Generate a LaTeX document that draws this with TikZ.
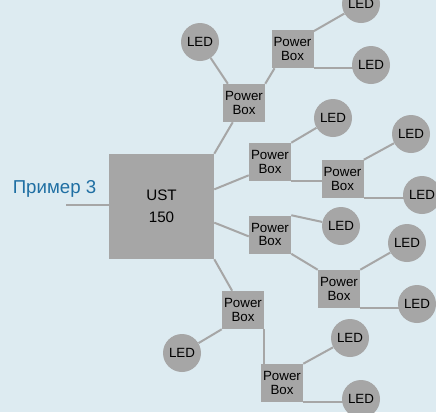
\documentclass[tikz,border=0pt]{standalone}
\usepackage{fontspec}
\setmainfont{Liberation Sans}
\usetikzlibrary{backgrounds}
\definecolor{bgblue}{HTML}{DDEBF1}
\definecolor{boxgray}{HTML}{A6A6A6}
\definecolor{txtblue}{HTML}{1F6FA3}

\begin{document}
\begin{tikzpicture}[x=0.75pt,y=-0.75pt,
  pbox/.style={fill=boxgray,minimum width=31.5pt,minimum height=28.5pt,inner sep=0pt,align=center,font=\fontsize{10}{9.8}\selectfont},
  led/.style={circle,fill=boxgray,minimum size=28.5pt,inner sep=0pt,font=\fontsize{10}{12}\selectfont},
  wire/.style={draw=boxgray,line width=1.5pt}]
\useasboundingbox (0,0) rectangle (436,412);
\begin{pgfonlayer}{background}
\fill[bgblue] (0,0) rectangle (436,412);
\end{pgfonlayer}
\clip (0,0) rectangle (436,412);
% controller and feed
\node[fill=boxgray,minimum size=78.75pt,inner sep=0pt,align=center,font=\fontsize{11.4}{16.5}\selectfont] (ust) at (161.5,206.5) {UST\\150};
\node[text=txtblue,font=\fontsize{14}{16}\selectfont,inner sep=0pt] (title) at (54.5,189) {Пример 3};
\coordinate (feed) at (66,205);
% power boxes
\node[pbox] (pb1) at (244,103) {Power\\Box};
\node[pbox] (pb2) at (292.5,49) {Power\\Box};
\node[pbox] (pb3) at (270,162) {Power\\Box};
\node[pbox] (pb4) at (342.5,179) {Power\\Box};
\node[pbox] (pb5) at (270,234.5) {Power\\Box};
\node[pbox] (pb6) at (339,289) {Power\\Box};
\node[pbox] (pb7) at (243,310) {Power\\Box};
\node[pbox] (pb8) at (282,383) {Power\\Box};
% leds
\node[led] (led1) at (200,42) {LED};
\node[led] (led2) at (361,4) {LED};
\node[led] (led3) at (371,65) {LED};
\node[led] (led4) at (333,118) {LED};
\node[led] (led5) at (411,134) {LED};
\node[led] (led6) at (422,195) {LED};
\node[led] (led7) at (341,226) {LED};
\node[led] (led8) at (407,243) {LED};
\node[led] (led9) at (417,304) {LED};
\node[led] (led10) at (182,353) {LED};
\node[led] (led11) at (350,338) {LED};
\node[led] (led12) at (361,399) {LED};
% wiring
\begin{pgfonlayer}{background}
\draw[wire] (feed) -- (feed -| ust.west);
\draw[wire] (ust.north east) -- (pb1);
\draw[wire] (ust.18) -- (pb3.212);
\draw[wire] (ust.-17) -- (pb5.185);
\draw[wire] (ust.south east) -- (pb7);
\draw[wire] (pb1.130) -- (led1);
\draw[wire] (pb1.north east) -- (pb2.227);
\draw[wire] (pb2.40) -- (led2);
\draw[wire] (pb2.south east) -- (pb2.south east -| led3);
\draw[wire] (pb3.north east) -- (led4);
\draw[wire] (pb3.south east) -- (pb3.south east -| pb4);
\draw[wire] (pb4.north east) -- (led5);
\draw[wire] (pb4.south east) -- (pb4.south east -| led6);
\draw[wire] (pb5.north east) -- (led7);
\draw[wire] (pb5.south east) -- (pb6.north west);
\draw[wire] (pb6.north east) -- (led8);
\draw[wire] (pb6.south east) -- (pb6.south east -| led9);
\draw[wire] (pb7.south west) -- (led10);
\draw[wire] (pb7.south east) -- (pb7.south east |- pb8);
\draw[wire] (pb8.north east) -- (led11);
\draw[wire] (pb8.south east) -- (pb8.south east -| led12);
\end{pgfonlayer}
\end{tikzpicture}
\end{document}
